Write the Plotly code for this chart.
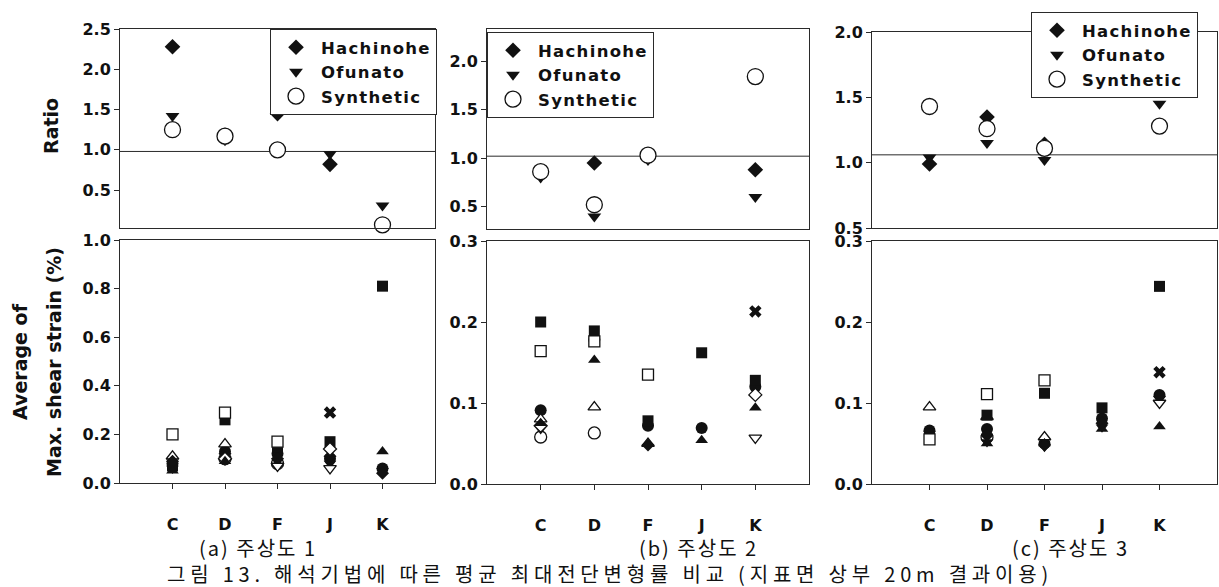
import plotly.graph_objects as go

W, H = 1219, 587

categories = ["C", "D", "F", "J", "K"]

# ---- Ratio (top row), by input motion ----
hachinohe_1 = [2.28, 1.18, 1.45, 0.82, None]
ofunato_1 = [1.42, 1.12, 0.99, 0.95, 0.31]
synthetic_1 = [1.25, 1.17, 1.00, None, 0.07]

hachinohe_2 = [None, 0.95, None, None, 0.88]
ofunato_2 = [0.80, 0.40, 0.98, None, 0.60]
synthetic_2 = [0.86, 0.52, 1.03, None, 1.84]

hachinohe_3 = [0.99, 1.35, 1.14, None, None]
ofunato_3 = [1.04, 1.15, 1.02, None, 1.45]
synthetic_3 = [1.43, 1.26, 1.11, None, 1.28]

# level of the horizontal guide line drawn in each ratio panel
ratio_guide = [0.98, 1.02, 1.06]

# ---- Average of max. shear strain (%) (bottom row), by analysis case ----
# profile 1
strain1_circle = [0.08, 0.13, 0.12, 0.10, 0.06]
strain1_circle_open = [None, 0.10, 0.08, None, None]
strain1_tri_down = [0.06, 0.10, 0.09, 0.08, 0.05]
strain1_tri_up_open = [0.11, 0.16, None, None, None]
strain1_square = [0.07, 0.26, 0.15, 0.17, 0.81]
strain1_square_open = [0.20, 0.29, 0.17, None, None]
strain1_diamond = [0.09, 0.12, 0.10, 0.11, 0.04]
strain1_diamond_open = [None, 0.10, None, 0.14, None]
strain1_tri_up = [0.05, 0.09, 0.08, None, 0.13]
strain1_tri_down_open = [None, None, 0.07, 0.06, None]
strain1_cross = [None, None, None, 0.29, None]

# profile 2
strain2_circle = [0.091, 0.178, 0.072, 0.069, 0.120]
strain2_circle_open = [0.058, 0.063, None, None, None]
strain2_tri_down = [0.068, None, None, None, None]
strain2_tri_up_open = [0.080, 0.095, 0.050, None, None]
strain2_square = [0.200, 0.189, 0.078, 0.162, 0.128]
strain2_square_open = [0.164, 0.176, 0.135, None, None]
strain2_diamond = [None, None, 0.048, None, None]
strain2_diamond_open = [0.072, None, None, None, 0.110]
strain2_tri_up = [0.075, 0.153, None, 0.054, 0.094]
strain2_tri_down_open = [None, None, None, None, 0.057]
strain2_cross = [None, None, None, None, 0.213]

# profile 3
strain3_circle = [0.066, 0.068, 0.050, 0.081, 0.110]
strain3_circle_open = [None, 0.058, None, None, None]
strain3_tri_down = [0.062, 0.052, 0.046, 0.070, None]
strain3_tri_up_open = [0.095, 0.083, 0.058, None, None]
strain3_square = [0.062, 0.085, 0.112, 0.094, 0.244]
strain3_square_open = [0.055, 0.111, 0.128, None, None]
strain3_diamond = [None, 0.060, 0.048, 0.075, 0.108]
strain3_diamond_open = [None, None, None, None, None]
strain3_tri_up = [None, 0.050, 0.050, 0.068, 0.071]
strain3_tri_down_open = [None, None, None, None, 0.100]
strain3_cross = [None, None, None, None, 0.138]

panel_labels = ["(a) 주상도 1", "(b) 주상도 2", "(c) 주상도 3"]
caption = "그림 13. 해석기법에 따른 평균 최대전단변형률 비교 (지표면 상부 20m 결과이용)"

# ---- styling ----
INK = "#111111"
FRAME = "#2a2a2a"
BOLD = "DejaVu Sans"
KFONT = "Noto Sans CJK KR"


def mk(symbol, filled, size):
    return dict(symbol=symbol, size=size,
                color=INK if filled else "white",
                line=dict(color=INK, width=0 if filled else 1.3))


def spaced(text, px):
    return f'<span style="letter-spacing:{px}px">{text}</span>'


strain_styles = [
    ("circle", mk("circle", True, 12)),
    ("circle_open", mk("circle", False, 12)),
    ("tri_down", mk("triangle-down", True, 11)),
    ("tri_up_open", mk("triangle-up", False, 11)),
    ("square", mk("square", True, 11)),
    ("square_open", mk("square", False, 11)),
    ("diamond", mk("diamond", True, 10)),
    ("diamond_open", mk("diamond", False, 10)),
    ("tri_up", mk("triangle-up", True, 11)),
    ("tri_down_open", mk("triangle-down", False, 11)),
    ("cross", mk("x", True, 11)),
]

strain_data = {
    1: [strain1_circle, strain1_circle_open, strain1_tri_down, strain1_tri_up_open,
        strain1_square, strain1_square_open, strain1_diamond, strain1_diamond_open,
        strain1_tri_up, strain1_tri_down_open, strain1_cross],
    2: [strain2_circle, strain2_circle_open, strain2_tri_down, strain2_tri_up_open,
        strain2_square, strain2_square_open, strain2_diamond, strain2_diamond_open,
        strain2_tri_up, strain2_tri_down_open, strain2_cross],
    3: [strain3_circle, strain3_circle_open, strain3_tri_down, strain3_tri_up_open,
        strain3_square, strain3_square_open, strain3_diamond, strain3_diamond_open,
        strain3_tri_up, strain3_tri_down_open, strain3_cross],
}

ratio_data = {
    1: [hachinohe_1, ofunato_1, synthetic_1],
    2: [hachinohe_2, ofunato_2, synthetic_2],
    3: [hachinohe_3, ofunato_3, synthetic_3],
}
ratio_names = ["Hachinohe", "Ofunato", "Synthetic"]
ratio_markers = [mk("diamond", True, 12), mk("triangle-down", True, 12), mk("circle", False, 16)]

# pixel boxes of each panel: (left, right, top, bottom)
top_boxes = {1: (120, 435, 29, 228), 2: (487, 809, 29, 229), 3: (872, 1217, 32, 228)}
bot_boxes = {1: (120, 435, 240, 483), 2: (487, 809, 241, 484), 3: (872, 1217, 241, 484)}
top_ranges = {1: [0.03, 2.5], 2: [0.27, 2.33], 3: [0.5, 2.0]}
top_ticks = {1: [0.5, 1.0, 1.5, 2.0, 2.5], 2: [0.5, 1.0, 1.5, 2.0], 3: [0.5, 1.0, 1.5, 2.0]}
bot_ranges = {1: [0, 1.0], 2: [0, 0.3], 3: [0, 0.3]}
bot_ticks = {1: [0, 0.2, 0.4, 0.6, 0.8, 1.0], 2: [0, 0.1, 0.2, 0.3], 3: [0, 0.1, 0.2, 0.3]}
legend_pos = {1: (270, 29), 2: (487, 32), 3: (1031, 12)}
label_x = {1: 258, 2: 698, 3: 1070}


def px_x(x):
    return x / W


def px_y(y):
    return 1 - y / H


def ax_id(i):
    return "" if i == 1 else str(i)


fig = go.Figure()
layout = dict(
    width=W, height=H,
    margin=dict(l=0, r=0, t=0, b=0, pad=0, autoexpand=False),
    paper_bgcolor="white", plot_bgcolor="white",
    showlegend=True,
    annotations=[], shapes=[],
)

tick_font = dict(family=BOLD, size=16, color=INK, weight="bold")

for p in (1, 2, 3):
    ti = 2 * p - 1
    bi = 2 * p
    tx, ty = "x" + ax_id(ti), "y" + ax_id(ti)
    bx, by = "x" + ax_id(bi), "y" + ax_id(bi)
    legend_id = "legend" if p == 1 else f"legend{p}"

    # top: ratio
    for name, vals, marker in zip(ratio_names, ratio_data[p], ratio_markers):
        fig.add_trace(go.Scatter(
            x=categories, y=vals, mode="markers", name=spaced(name, 1.3),
            marker=marker, xaxis=tx, yaxis=ty, legend=legend_id,
            cliponaxis=False,
        ))

    # bottom: strain
    for (sname, marker), vals in zip(strain_styles, strain_data[p]):
        fig.add_trace(go.Scatter(
            x=categories, y=vals, mode="markers", name=sname, marker=marker,
            xaxis=bx, yaxis=by, showlegend=False, cliponaxis=False,
        ))

    common = dict(showline=True, mirror=True, linecolor=FRAME, linewidth=1,
                  showgrid=False, zeroline=False, automargin=False)

    l, r, t, b = top_boxes[p]
    layout["xaxis" + ax_id(ti)] = dict(
        domain=[px_x(l), px_x(r)], anchor=ty, type="category",
        categoryorder="array", categoryarray=categories, range=[-1, 5],
        ticks="", showticklabels=False, **common,
    )
    layout["yaxis" + ax_id(ti)] = dict(
        domain=[px_y(b), px_y(t)], anchor=tx, range=top_ranges[p],
        tickvals=top_ticks[p], tickformat=".1f",
        ticks="outside", ticklen=5, tickcolor=FRAME, tickfont=tick_font,
        **common,
    )
    layout["shapes"].append(dict(
        type="line", xref=f"{tx} domain", yref=ty, x0=0, x1=1,
        y0=ratio_guide[p - 1], y1=ratio_guide[p - 1],
        line=dict(color=FRAME, width=1), layer="below",
    ))

    l, r, t, b = bot_boxes[p]
    layout["xaxis" + ax_id(bi)] = dict(
        domain=[px_x(l), px_x(r)], anchor=by, type="category",
        categoryorder="array", categoryarray=categories, range=[-1, 5],
        ticks="outside", ticklen=5, tickcolor=FRAME, tickfont=tick_font,
        ticklabelstandoff=22, **common,
    )
    layout["yaxis" + ax_id(bi)] = dict(
        domain=[px_y(b), px_y(t)], anchor=bx, range=bot_ranges[p],
        tickvals=bot_ticks[p], tickformat=".1f",
        ticks="outside", ticklen=5, tickcolor=FRAME, tickfont=tick_font,
        **common,
    )

    lx, ly = legend_pos[p]
    layout[legend_id] = dict(
        x=px_x(lx), y=px_y(ly), xanchor="left", yanchor="top",
        bgcolor="white", bordercolor=FRAME, borderwidth=1,
        font=dict(family=BOLD, size=16.5, color=INK, weight="bold"),
        itemwidth=40, tracegroupgap=0,
    )

    layout["annotations"].append(dict(
        text=spaced(panel_labels[p - 1], 2), x=px_x(label_x[p]), y=px_y(547),
        xref="paper", yref="paper", xanchor="center", yanchor="middle",
        showarrow=False, font=dict(family=KFONT, size=20, color=INK),
    ))

# axis titles
title_font = dict(family=BOLD, size=19, color=INK, weight="bold")
for text, x, y in [("Ratio", 51, 126), ("Average of", 20, 362),
                   ("Max. shear strain (%)", 54, 362)]:
    layout["annotations"].append(dict(
        text=text, x=px_x(x), y=px_y(y), xref="paper", yref="paper",
        xanchor="center", yanchor="middle", textangle=-90, showarrow=False,
        font=title_font,
    ))

layout["annotations"].append(dict(
    text=spaced(caption, 4.8), x=px_x(610), y=px_y(573), xref="paper", yref="paper",
    xanchor="center", yanchor="middle", showarrow=False,
    font=dict(family=KFONT, size=20, color=INK),
))

fig.update_layout(**layout)
fig.write_html("out.html")
